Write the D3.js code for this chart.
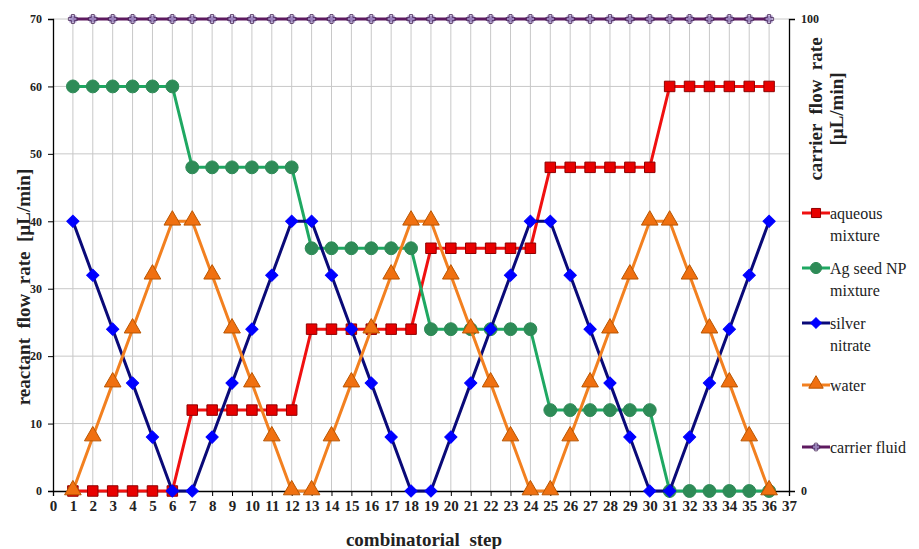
<!DOCTYPE html>
<html>
<head>
<meta charset="utf-8">
<script src="https://cdn.jsdelivr.net/npm/d3@7"></script>
<style>
  body { margin: 0; background: #fff; }
</style>
</head>
<body>
<div id="chart-area"></div>
<script>
// data
var steps = d3.range(1, 37);
var aqueous = [0,0,0,0,0,0, 12,12,12,12,12,12, 24,24,24,24,24,24, 36,36,36,36,36,36, 48,48,48,48,48,48, 60,60,60,60,60,60];
var agSeed = [60,60,60,60,60,60, 48,48,48,48,48,48, 36,36,36,36,36,36, 24,24,24,24,24,24, 12,12,12,12,12,12, 0,0,0,0,0,0];
var silverNitrate = [40,32,24,16,8,0, 0,8,16,24,32,40, 40,32,24,16,8,0, 0,8,16,24,32,40, 40,32,24,16,8,0, 0,8,16,24,32,40];
var water = [0,8,16,24,32,40, 40,32,24,16,8,0, 0,8,16,24,32,40, 40,32,24,16,8,0, 0,8,16,24,32,40, 40,32,24,16,8,0];
var carrier = [100,100,100,100,100,100,100,100,100,100,100,100,100,100,100,100,100,100,
               100,100,100,100,100,100,100,100,100,100,100,100,100,100,100,100,100,100];
var leftTicks = [0, 10, 20, 30, 40, 50, 60, 70];
var rightTicks = [0, 100];
var xTicks = d3.range(0, 38);

var FONT = "'Liberation Serif', 'Times New Roman', serif";

var series = [
    { name: ["aqueous", "mixture"], values: aqueous, axis: "left", line: "#f01010", fill: "#e80000", stroke: "#900000", marker: "square" },
    { name: ["Ag seed NP", "mixture"], values: agSeed, axis: "left", line: "#1fa862", fill: "#2e8b57", stroke: "#2e8b57", marker: "circle" },
    { name: ["silver", "nitrate"], values: silverNitrate, axis: "left", line: "#0a0a78", fill: "#0000ff", stroke: "#0000ff", marker: "diamond" },
    { name: ["water"], values: water, axis: "left", line: "#f28020", fill: "#f07010", stroke: "#b85500", marker: "triangle" },
    { name: ["carrier fluid"], values: carrier, axis: "right", line: "#5e1a60", fill: "#a08cc4", stroke: "#a08cc4", marker: "plus" }
];

var width = 919, height = 549;
var plot = { left: 53, right: 789, top: 19, bottom: 491 };

var svg = d3.select("#chart-area").append("svg")
    .attr("width", width)
    .attr("height", height)
    .style("font-family", FONT);

var x = d3.scaleLinear().domain([0, 37]).range([plot.left, plot.right]);
var y = d3.scaleLinear().domain([0, 70]).range([plot.bottom, plot.top]);
var y2 = d3.scaleLinear().domain([0, 100]).range([plot.bottom, plot.top]);

// markers
function drawMarker(g, s, k) {
    k = k || 1;
    if (s.marker === "square") {
        g.append("path").attr("d", d3.symbol().type(d3.symbolSquare).size(110 * k))
            .attr("fill", s.fill).attr("stroke", s.stroke).attr("stroke-width", 1);
    } else if (s.marker === "circle") {
        g.append("path").attr("d", d3.symbol().type(d3.symbolCircle).size(130 * k))
            .attr("fill", s.fill).attr("stroke", s.stroke);
    } else if (s.marker === "diamond") {
        g.append("path").attr("d", d3.symbol().type(d3.symbolSquare).size(75 * k))
            .attr("transform", "rotate(45)")
            .attr("fill", s.fill).attr("stroke", s.stroke);
    } else if (s.marker === "triangle") {
        g.append("path").attr("d", d3.symbol().type(d3.symbolTriangle).size(120 * k))
            .attr("transform", "translate(0,-1)")
            .attr("fill", s.fill).attr("stroke", s.stroke);
    } else {
        g.append("path").attr("d", d3.symbol().type(d3.symbolSquare).size(50 * k))
            .attr("fill", s.fill).attr("opacity", 0.9);
        g.append("path").attr("d", d3.symbol().type(d3.symbolCross).size(45 * k))
            .attr("fill", "none").attr("stroke", "#4a2a5a").attr("stroke-width", 0.8);
    }
}

// gridlines
svg.append("g")
    .selectAll("line")
    .data(steps)
    .enter().append("line")
        .attr("x1", (d) => x(d)).attr("x2", (d) => x(d))
        .attr("y1", plot.top).attr("y2", plot.bottom)
        .attr("stroke", "#c8c8c8").attr("stroke-width", 1);

svg.append("g")
    .selectAll("line")
    .data(leftTicks.slice(1))
    .enter().append("line")
        .attr("x1", plot.left).attr("x2", plot.right)
        .attr("y1", (d) => y(d)).attr("y2", (d) => y(d))
        .attr("stroke", "#c8c8c8").attr("stroke-width", 1);

// axes
var xAxisCall = d3.axisBottom(x).tickValues(xTicks).tickSize(5).tickFormat(d3.format("d"));
var xAxis = svg.append("g")
    .attr("transform", "translate(0," + plot.bottom + ")")
    .call(xAxisCall);

var yAxisCall = d3.axisLeft(y).tickValues(leftTicks).tickSize(5);
var yAxis = svg.append("g")
    .attr("transform", "translate(" + plot.left + ",0)")
    .call(yAxisCall);

var y2AxisCall = d3.axisRight(y2).tickValues(rightTicks).tickSize(6);
var y2Axis = svg.append("g")
    .attr("transform", "translate(" + plot.right + ",0)")
    .call(y2AxisCall);

[xAxis, yAxis, y2Axis].forEach((a) => {
    a.attr("font-family", null);
    a.select(".domain").attr("stroke", "#000").attr("stroke-width", 1.3);
    a.selectAll(".tick line").attr("stroke", "#000");
    a.selectAll("text")
        .style("font-family", FONT)
        .style("font-weight", "bold")
        .attr("fill", "#222");
});
xAxis.selectAll("text").style("font-size", "15px").attr("y", 9);
yAxis.selectAll("text").style("font-size", "12px").attr("x", -11);
y2Axis.selectAll("text").style("font-size", "12px").attr("x", 12);

// lines and markers
var line = (s) => d3.line()
    .x((d, i) => x(steps[i]))
    .y((d) => s.axis === "left" ? y(d) : y2(d));

series.forEach((s) => {
    svg.append("path")
        .datum(s.values)
        .attr("fill", "none")
        .attr("stroke", s.line)
        .attr("stroke-width", 3)
        .attr("d", line(s));

    var pts = svg.append("g")
        .selectAll("g")
        .data(s.values)
        .enter().append("g")
            .attr("transform", (d, i) => "translate(" + x(steps[i]) + "," + (s.axis === "left" ? y(d) : y2(d)) + ")");
    pts.each(function () { drawMarker(d3.select(this), s); });
});

// legend
var legendY = [213, 268, 323, 385, 447];
var legend = svg.append("g");
series.forEach((s, i) => {
    var g = legend.append("g").attr("transform", "translate(802," + legendY[i] + ")");
    g.append("line")
        .attr("x1", 0).attr("x2", 28)
        .attr("stroke", s.line).attr("stroke-width", 3);
    drawMarker(g.append("g").attr("transform", "translate(14,0)"), s, 0.75);
    s.name.forEach((t, j) => {
        g.append("text")
            .attr("x", 28)
            .attr("y", 6 + j * 22)
            .attr("font-family", "Liberation Serif")
            .style("font-size", "16px")
            .attr("fill", "#222")
            .text(t);
    });
});

// axis titles
function title(tr, t) {
    svg.append("text")
        .attr("transform", tr)
        .attr("text-anchor", "middle")
        .style("font-family", FONT)
        .style("font-size", "19px")
        .style("font-weight", "bold")
        .style("white-space", "pre")
        .attr("fill", "#222")
        .text(t);
}
title("translate(30,287) rotate(-90)", "reactant  flow  rate  [µL/min]");
title("translate(822,109) rotate(-90)", "carrier  flow  rate");
title("translate(843,109) rotate(-90)", "[µL/min]");
title("translate(424,546)", "combinatorial  step");
</script>
</body>
</html>
